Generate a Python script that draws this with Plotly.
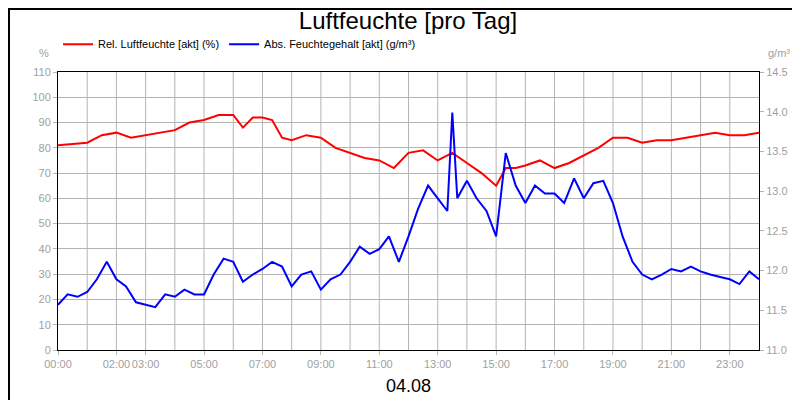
import plotly.graph_objects as go

# relative humidity (%), left axis
rel_hours = [0, 1, 1.5, 2, 2.5, 3, 3.5, 4, 4.5, 5, 5.5, 6, 6.33, 6.67, 7, 7.33, 7.67, 8, 8.5, 9,
             9.5, 10, 10.5, 11, 11.5, 12, 12.5, 13, 13.5, 14, 14.5, 15, 15.33, 15.67, 16, 16.5,
             17, 17.5, 18, 18.5, 19, 19.5, 20, 20.5, 21, 21.5, 22, 22.5, 23, 23.5, 24]
rel_values = [81, 82, 85, 86, 84, 85, 86, 87, 90, 91, 93, 93, 88, 92, 92, 91, 84, 83, 85, 84,
              80, 78, 76, 75, 72, 78, 79, 75, 78, 74, 70, 65, 72, 72, 73, 75,
              72, 74, 77, 80, 84, 84, 82, 83, 83, 84, 85, 86, 85, 85, 86]

# absolute humidity (g/m³), right axis
abs_hours = [0, 0.33, 0.67, 1, 1.33, 1.67, 2, 2.33, 2.67, 3, 3.33, 3.67, 4, 4.33, 4.67, 5,
             5.33, 5.67, 6, 6.33, 6.67, 7, 7.33, 7.67, 8, 8.33, 8.67, 9, 9.33, 9.67, 10,
             10.33, 10.67, 11, 11.33, 11.67, 12, 12.33, 12.67, 13, 13.33, 13.5, 13.67, 14,
             14.33, 14.67, 15, 15.33, 15.67, 16, 16.33, 16.67, 17, 17.33, 17.67, 18, 18.33,
             18.67, 19, 19.33, 19.67, 20, 20.33, 20.67, 21, 21.33, 21.67, 22, 22.33, 22.67,
             23, 23.33, 23.67, 24]
abs_values = [11.57, 11.70, 11.67, 11.73, 11.89, 12.11, 11.89, 11.80, 11.60, 11.57, 11.54,
              11.70, 11.67, 11.76, 11.70, 11.70, 11.95, 12.15, 12.11, 11.86, 11.95, 12.02,
              12.11, 12.05, 11.80, 11.95, 11.99, 11.76, 11.89, 11.95, 12.11, 12.30, 12.21,
              12.27, 12.43, 12.11, 12.43, 12.78, 13.07, 12.91, 12.75, 13.99, 12.91, 13.13,
              12.91, 12.75, 12.43, 13.48, 13.07, 12.85, 13.07, 12.97, 12.97, 12.85, 13.16,
              12.91, 13.10, 13.13, 12.85, 12.43, 12.11, 11.95, 11.89, 11.95, 12.02, 11.99,
              12.05, 11.99, 11.95, 11.92, 11.89, 11.83, 11.99, 11.89]

tick_hours = [0, 2, 3, 5, 7, 9, 11, 13, 15, 17, 19, 21, 23]
tick_labels = ["00:00", "02:00", "03:00", "05:00", "07:00", "09:00", "11:00",
               "13:00", "15:00", "17:00", "19:00", "21:00", "23:00"]

grey = "#b4b4b4"
font = dict(family="Liberation Sans, Arial", size=11, color="#a0a0a0")

fig = go.Figure()
fig.add_trace(go.Scatter(x=rel_hours, y=rel_values, mode="lines", name="Rel. Luftfeuchte [akt] (%)",
                         line=dict(color="#ff0000", width=2)))
fig.add_trace(go.Scatter(x=abs_hours, y=abs_values, mode="lines", yaxis="y2",
                         name="Abs. Feuchtegehalt [akt] (g/m³)", line=dict(color="#0000ff", width=2)))

fig.update_layout(
    width=800, height=400, paper_bgcolor="white", plot_bgcolor="white",
    margin=dict(l=50, r=49, t=64, b=58, autoexpand=False),
    font=font, showlegend=True,
    title=dict(text="Luftfeuchte [pro Tag]", x=0.5, y=0.99, yanchor="top",
               font=dict(family="Liberation Sans, Arial", size=24, color="black")),
    legend=dict(orientation="h", x=0.0, y=1.1, xanchor="left", yanchor="middle",
                font=dict(family="Liberation Sans, Arial", size=11, color="black"),
                itemwidth=30, bgcolor="rgba(0,0,0,0)"),
    xaxis=dict(range=[0, 24], tickvals=tick_hours, ticktext=tick_labels, tickangle=0,
               automargin=False, showgrid=False, ticks="outside", ticklen=4, tickcolor=grey,
               showline=True, linecolor="black", linewidth=1, mirror=True),
    yaxis=dict(range=[0, 110], dtick=10, gridcolor=grey, ticks="outside", ticklen=4,
               automargin=False, tickcolor=grey, showline=True, linecolor="black",
               mirror=True, zeroline=False),
    yaxis2=dict(range=[11, 14.5], dtick=0.5, tickformat=".1f", overlaying="y", side="right",
                automargin=False, showgrid=False, ticks="outside", ticklen=4, tickcolor=grey,
                zeroline=False),
)
# hourly vertical gridlines
for h in range(1, 24):
    fig.add_vline(x=h, line=dict(color=grey, width=1), layer="below")

fig.add_annotation(text="%", xref="paper", yref="paper", x=-0.01, y=1.04, showarrow=False,
                   xanchor="right", yanchor="bottom", font=font)
fig.add_annotation(text="g/m³", xref="paper", yref="paper", x=1.01, y=1.04, showarrow=False,
                   xanchor="left", yanchor="bottom", font=font)
fig.add_annotation(text="04.08", xref="paper", yref="paper", x=0.5, y=-0.13, showarrow=False,
                   yanchor="middle", font=dict(family="Liberation Sans, Arial", size=18, color="black"))
fig.add_shape(type="rect", xref="paper", yref="paper", x0=-0.0699, x1=1.0685, y0=-0.205, y1=1.2266,
              line=dict(color="black", width=2))

fig.write_html("out.html")
